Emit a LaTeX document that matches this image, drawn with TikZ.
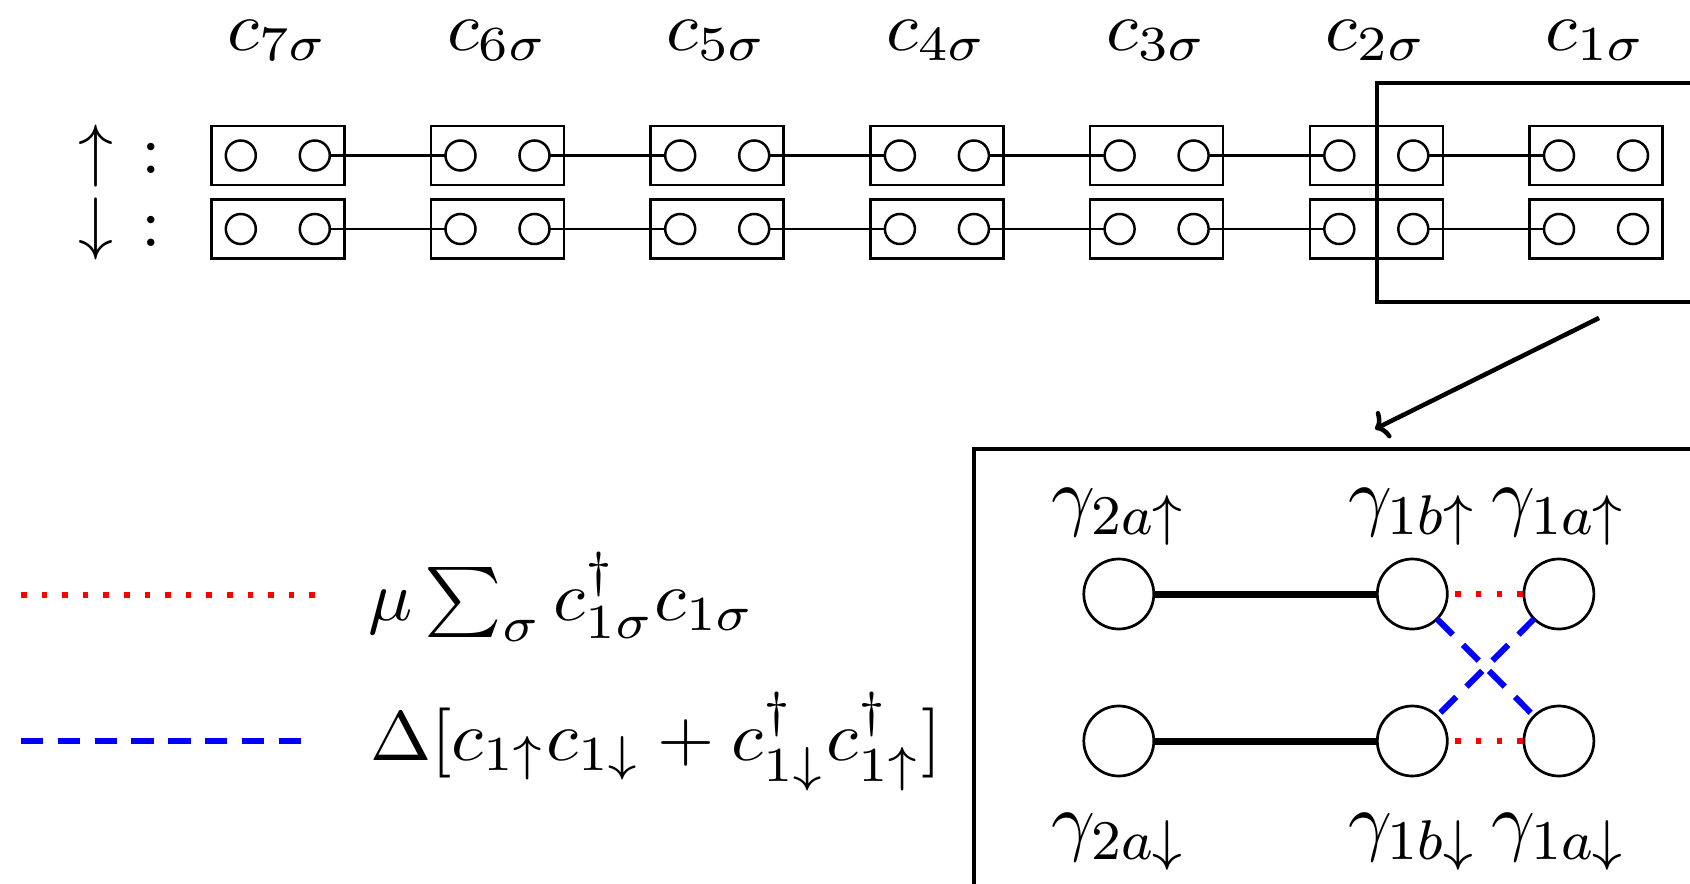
\documentclass[tikz,border=0pt]{standalone}
\usetikzlibrary{arrows.meta}
\newdimen\pxu
\pxu=0.142857pt
% math set slightly wide, as in the printed labels
\newcommand{\wm}[1]{\scalebox{1.05}[1]{$#1$}}
\begin{document}
\begin{tikzpicture}[x=\pxu,y=-\pxu,
  every node/.style={inner sep=0pt, outer sep=0pt},
  site/.style={draw, line width=2.6\pxu, minimum width=133\pxu, minimum height=59\pxu},
  orb/.style={draw, circle, line width=2.5\pxu, minimum size=30\pxu},
  hop/.style={line width=2.5\pxu},
  majo/.style={draw, circle, line width=2.7\pxu, minimum size=70\pxu},
  mlabel/.style={anchor=base, font=\fontsize{10.95}{13.6}\selectfont},
  frame/.style={draw, line width=4.5\pxu},
  pairline/.style={line width=7\pxu},
  chem/.style={red, line width=5.5\pxu, dash pattern=on 5.5\pxu off 15.1\pxu},
  scline/.style={blue, line width=6\pxu, dash pattern=on 22.3\pxu off 14.5\pxu},
]
\useasboundingbox (0,0) rectangle (1690,884);
\clip (0,0) rectangle (1690,884);

% spin labels
\node[anchor=base west] (spinup) at (79,173) {$\uparrow$\hspace{4pt}:};
\node[anchor=base west] (spindn) at (79,246.4) {$\downarrow$\hspace{4pt}:};

% chain of sites c_7 ... c_1, each with two Majorana orbitals per spin
\foreach \k in {1,...,7}{
  \pgfmathsetmacro\cx{277.8+(7-\k)*219.7}
  \node[anchor=base] (lab\k) at (\cx,50) {\wm{c_{\k\sigma}}};
  \node[site] (su\k) at (\cx,155.5) {};
  \node[site] (sd\k) at (\cx,229) {};
  \node[orb] (ua\k) at (\cx-37,155.5) {};
  \node[orb] (ub\k) at (\cx+37,155.5) {};
  \node[orb] (da\k) at (\cx-37,229) {};
  \node[orb] (db\k) at (\cx+37,229) {};
}
\foreach \k [evaluate=\k as \j using int(\k-1)] in {2,...,7}{
  \draw[hop] (ub\k) -- (ua\j);
  \draw[hop] (db\k) -- (da\j);
}

% magnified end of the chain
\node[frame, anchor=north west, minimum width=400\pxu, minimum height=219\pxu] (zoomwin) at (1377,83) {};
\node[frame, anchor=north west, minimum width=800\pxu, minimum height=500\pxu] (panel) at (974,449) {};
\coordinate (zs) at (1599,318);
\coordinate (zt) at (1375,429);
\draw[line width=4.5\pxu, -{To[length=1.7pt,width=4.3pt]}] (zs) -- (zt);

% Majorana modes inside the panel
\node[majo] (g2au) at (1118.8,594) {};
\node[majo] (g1bu) at (1412.3,594) {};
\node[majo] (g1au) at (1558.9,594) {};
\node[majo] (g2ad) at (1118.8,741) {};
\node[majo] (g1bd) at (1412.3,741) {};
\node[majo] (g1ad) at (1558.9,741) {};
\node[mlabel] (l2au) at (1118.8,521.7) {$\gamma_{2a\uparrow}$};
\node[mlabel] (l1bu) at (1412.3,521.7) {$\gamma_{1b\uparrow}$};
\node[mlabel] (l1au) at (1558.9,521.7) {$\gamma_{1a\uparrow}$};
\node[mlabel] (l2ad) at (1118.8,846.7) {$\gamma_{2a\downarrow}$};
\node[mlabel] (l1bd) at (1412.3,846.7) {$\gamma_{1b\downarrow}$};
\node[mlabel] (l1ad) at (1558.9,846.7) {$\gamma_{1a\downarrow}$};

\draw[pairline] (g2au) -- (g1bu);
\draw[pairline] (g2ad) -- (g1bd);
\draw[chem, dash phase=12.6\pxu] (g1bu) -- (g1au);
\draw[chem, dash phase=12.6\pxu] (g1bd) -- (g1ad);
\draw[scline] (g1bu) -- (g1ad);
\draw[scline] (g1au) -- (g1bd);

% legend
\coordinate (m0) at (21,595);
\coordinate (m1) at (315,595);
\coordinate (d0) at (21,741);
\coordinate (d1) at (301,741);
\draw[chem] (m0) -- (m1);
\draw[scline] (d0) -- (d1);
\node[anchor=base west] (hmu) at (368,620) {\wm{\mu\sum_\sigma c^\dagger_{1\sigma}c_{1\sigma}}};
\node[anchor=base west] (hdelta) at (370,760) {\wm{\Delta[c_{1\uparrow}c_{1\downarrow}+c^\dagger_{1\downarrow}c^\dagger_{1\uparrow}]}};
\end{tikzpicture}
\end{document}
